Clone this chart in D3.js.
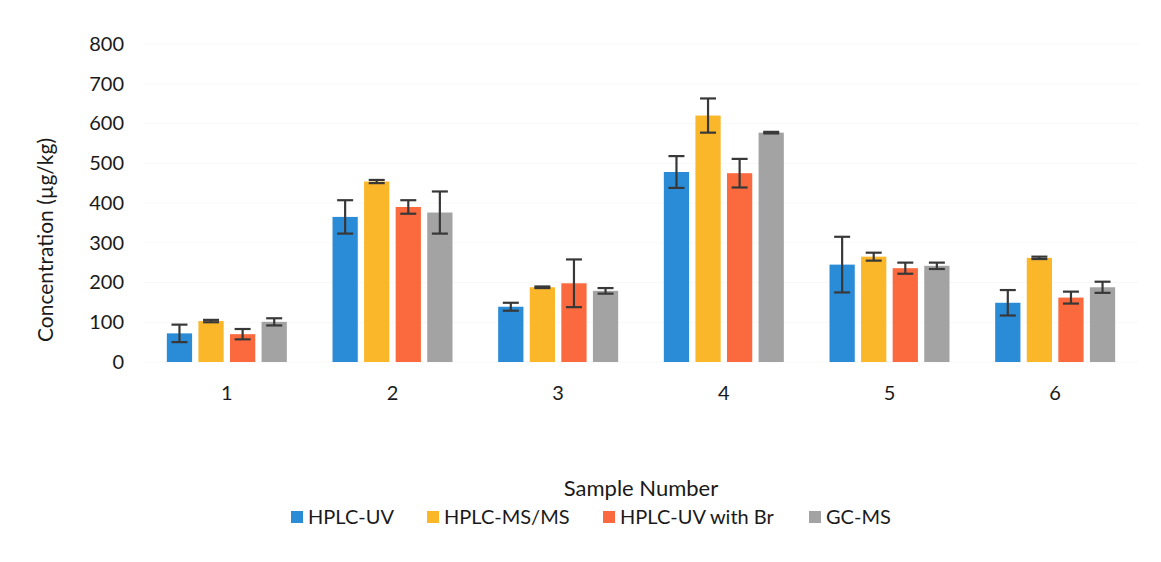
<!DOCTYPE html>
<html>
<head>
<meta charset="utf-8">
<script src="https://cdn.jsdelivr.net/npm/d3@7"></script>
<style>
  body { margin: 0; background: #fff; }
  svg { font-family: Lato, "Open Sans", sans-serif; }
</style>
</head>
<body>
<svg id="chart" width="1161" height="562"></svg>
<script>
// samples on the x axis
var samples = ["1", "2", "3", "4", "5", "6"];
var methods = ["HPLC-UV", "HPLC-MS/MS", "HPLC-UV with Br", "GC-MS"];
var colors = ["#2a8bd6", "#fbb72a", "#fb6a3e", "#a3a3a3"];

// concentrations per method (µg/kg), one value per sample
var hplcUv = [72, 365, 139, 478, 245, 149];
var hplcMsMs = [103, 454, 188, 620, 265, 262];
var hplcUvBr = [70, 390, 198, 475, 236, 162];
var gcMs = [101, 376, 179, 577, 242, 188];

// standard deviations (error bars)
var errUv = [22, 42, 10, 40, 70, 32];
var errMsMs = [3, 4, 2, 43, 10, 3];
var errUvBr = [13, 17, 60, 36, 14, 15];
var errGc = [9, 53, 7, 2, 8, 14];

var yTicks = [0, 100, 200, 300, 400, 500, 600, 700, 800];

var values = [hplcUv, hplcMsMs, hplcUvBr, gcMs];
var errors = [errUv, errMsMs, errUvBr, errGc];

var svg = d3.select("#chart");

var x0 = d3.scaleBand()
    .domain(samples)
    .range([144, 1138]);

var x1 = d3.scaleBand()
    .domain(methods)
    .range([0, 120])
    .paddingInner(0.2);

var y = d3.scaleLinear()
    .domain([0, 800])
    .range([362, 44]);

// very faint gridlines
svg.append("g")
    .selectAll("line")
    .data(yTicks)
    .enter().append("line")
    .attr("x1", 144)
    .attr("x2", 1138)
    .attr("y1", function (d) { return y(d); })
    .attr("y2", function (d) { return y(d); })
    .style("stroke", "#f8f8f8")
    .style("stroke-width", 1);

// y axis labels
var yAxis = svg.append("g")
    .attr("transform", "translate(126,0)")
    .call(d3.axisLeft(y).tickValues(yTicks).tickSize(0).tickPadding(2));
yAxis.select(".domain").remove();
yAxis.selectAll("text")
    .style("font-family", "Lato, sans-serif")
    .style("font-size", "20px")
    .style("fill", "#1a1a1a");

// x axis labels
var xAxis = svg.append("g")
    .attr("transform", "translate(0,382)")
    .call(d3.axisBottom(x0).tickSize(0).tickPadding(4));
xAxis.select(".domain").remove();
xAxis.selectAll("text")
    .style("font-family", "Lato, sans-serif")
    .style("font-size", "20px")
    .style("fill", "#1a1a1a");

// build rows for bars
var rows = [];
samples.forEach(function (s, i) {
    methods.forEach(function (m, j) {
        rows.push({ sample: s, method: m, value: values[j][i], err: errors[j][i], color: colors[j] });
    });
});

var groupOffset = (x0.bandwidth() - 120) / 2;

var bars = svg.append("g").selectAll("g")
    .data(rows)
    .enter().append("g")
    .attr("transform", function (d) { return "translate(" + (x0(d.sample) + groupOffset + x1(d.method)) + ",0)"; });

bars.append("rect")
    .attr("x", 0)
    .attr("y", function (d) { return y(d.value); })
    .attr("width", x1.bandwidth())
    .attr("height", function (d) { return y(0) - y(d.value); })
    .style("fill", function (d) { return d.color; });

// error bars
var cx = x1.bandwidth() / 2;
var cap = 8;
bars.append("line")
    .attr("x1", cx).attr("x2", cx)
    .attr("y1", function (d) { return y(d.value + d.err); })
    .attr("y2", function (d) { return y(d.value - d.err); })
    .style("stroke", "#383838")
    .style("stroke-width", 2.2);
bars.append("line")
    .attr("x1", cx - cap).attr("x2", cx + cap)
    .attr("y1", function (d) { return y(d.value + d.err); })
    .attr("y2", function (d) { return y(d.value + d.err); })
    .style("stroke", "#383838")
    .style("stroke-width", 2.2);
bars.append("line")
    .attr("x1", cx - cap).attr("x2", cx + cap)
    .attr("y1", function (d) { return y(d.value - d.err); })
    .attr("y2", function (d) { return y(d.value - d.err); })
    .style("stroke", "#383838")
    .style("stroke-width", 2.2);

// axis titles
svg.append("text")
    .attr("transform", "translate(53,240) rotate(-90)")
    .attr("text-anchor", "middle")
    .style("font-size", "21px")
    .style("fill", "#1a1a1a")
    .text("Concentration (µg/kg)");

svg.append("text")
    .attr("x", 641)
    .attr("y", 496)
    .attr("text-anchor", "middle")
    .style("font-size", "22px")
    .style("fill", "#1a1a1a")
    .text("Sample Number");

// legend
var legendX = [291, 427, 603, 809];
var legend = svg.append("g").selectAll("g")
    .data(methods)
    .enter().append("g")
    .attr("transform", function (d, i) { return "translate(" + legendX[i] + ",511)"; });
legend.append("rect")
    .attr("width", 12)
    .attr("height", 12)
    .style("fill", function (d, i) { return colors[i]; });
legend.append("text")
    .attr("x", 17)
    .attr("y", 13)
    .style("font-size", "20px")
    .style("fill", "#1a1a1a")
    .text(function (d) { return d; });
</script>
</body>
</html>
